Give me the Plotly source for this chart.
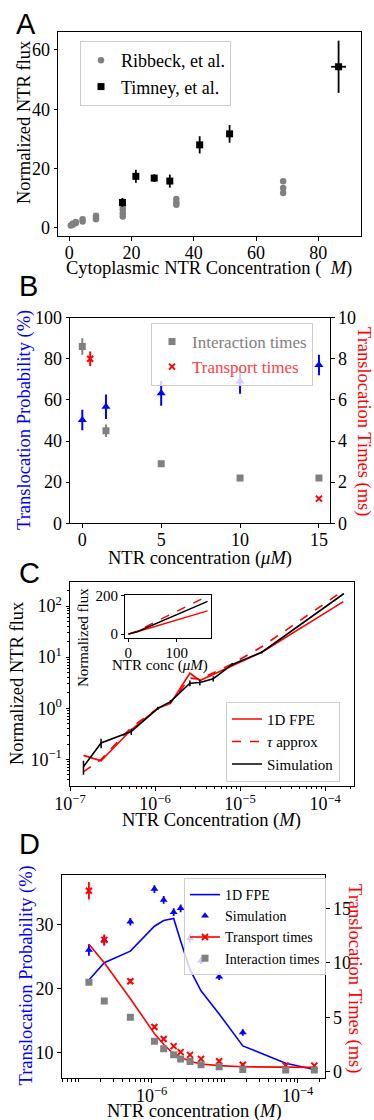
import plotly.graph_objects as go
import numpy as np

W, H = 374, 1120
SERIF = "Liberation Serif"
SANS = "Liberation Sans"

# ---------------- Panel A data ----------------
ribbeck_x = [0.5, 1.1, 1.1, 2.1, 2.1, 4.3, 4.3, 8.6, 8.6, 8.6, 17.2, 17.2, 17.2, 17.2,
             34.4, 34.4, 34.4, 68.7, 68.7, 68.7]
ribbeck_y = [0.8, 1.1, 1.4, 1.6, 2.0, 2.2, 2.9, 2.9, 3.5, 4.1, 3.9, 5.0, 6.2, 7.3,
             7.8, 8.6, 9.8, 11.8, 13.5, 15.7]
timney_x = [17.1, 21.4, 27.3, 32.3, 41.9, 51.5, 86.5]
timney_y = [8.6, 17.4, 16.8, 15.8, 28.0, 31.7, 54.3]
timney_yerr = [1.5, 2.2, 1.3, 2.2, 2.9, 3.0, 8.8]
timney_xerr = [0.6, 0.6, 0.6, 0.6, 0.6, 0.6, 2.4]

# ---------------- Panel B data ----------------
b_conc = [0, 1.5, 5, 10, 15]
b_prob = [50.2, 56.7, 63.2, 69.0, 77.0]
b_prob_err = [5, 6, 6, 6, 5]
b_inter = [8.6, 4.5, 2.9, 2.2, 2.2]
b_inter_err = [0.4, 0.3, 0.1, 0.15, 0.1]
b_trans_conc = [0.5, 15]
b_trans = [8.0, 1.2]
b_trans_err = [0.35, 0.05]

# ---------------- Panel C data ----------------
c_conc = [1.44e-7, 2.32e-7, 5.25e-7, 1.08e-6, 1.52e-6, 2.57e-6, 3.37e-6, 4.84e-6,
          8.1e-6, 1.8e-5, 1.64e-4]
c_sim = [0.072, 0.21, 0.35, 1.0, 1.35, 3.1, 3.2, 3.8, 7.2, 12.5, 172]
c_sim_err = [0.022, 0.045, 0.05, 0.07, 0.1, 0.4, 0.4, 0.45, 0.5, 0.6, 5]
c_fpe = [0.12, 0.094, 0.38, 1.0, 1.25, 4.85, 3.5, 4.6, 7.0, 12.5, 122]
c_tau = [0.057, 0.1, 0.42, 1.0, 1.3, 3.9, 3.7, 5.0, 7.4, 16, 200]

# ---------------- Panel D data ----------------
d_conc = [1.38e-7, 2.24e-7, 5.1e-7, 1.09e-6, 1.46e-6, 2.0e-6, 2.49e-6, 3.35e-6,
          4.74e-6, 8.4e-6, 1.77e-5, 6.85e-5, 1.69e-4]
d_prob_sim = [26.0, 27.5, 30.4, 35.5, 33.8, 31.9, 32.5, 27.8, 24.3, 21.8, 13.1]
d_prob_sim_err = [0.9, 0.8, 0.6, 0.6, 0.6, 0.6, 0.6, 0.6, 0.5, 0.5, 0.5]
d_prob_fpe = [21.3, 24.0, 25.8, 29.7, 30.6, 30.9, 27.4, 22.9, 19.6, 16.0, 11.0, 8.3, 7.3]
d_trans_fpe = [11.7, 10.0, 6.7, 3.5, 2.5, 1.64, 1.33, 0.96, 0.71, 0.56, 0.46, 0.4, 0.4]
d_trans_sim = [16.6, 12.1, 8.3, 4.1, 3.0, 2.35, 1.8, 1.55, 1.18, 0.96, 0.65, 0.56, 0.56]
d_trans_sim_err = [0.8, 0.5, 0.2, 0.15, 0.12, 0.1, 0.08, 0.06, 0.05, 0.05, 0.05, 0.05, 0.05]
d_inter_sim = [8.2, 6.5, 5.0, 2.8, 2.1, 1.55, 1.18, 0.93, 0.65, 0.46, 0.2, 0.15, 0.15]
d_span = [8.6e-8, 1.48e-6]


def xd(a, b):
    return [a / W, b / W]


def yd(top, bottom):
    return [1 - bottom / H, 1 - top / H]


fig = go.Figure()

# ---- A ----
fig.add_trace(go.Scatter(x=ribbeck_x, y=ribbeck_y, mode="markers", name="Ribbeck, et al.",
                         marker=dict(color="gray", size=6.5), xaxis="x", yaxis="y",
                         legend="legend"))
fig.add_trace(go.Scatter(x=timney_x, y=timney_y, mode="markers", name="Timney, et al.",
                         marker=dict(color="black", symbol="square", size=7),
                         error_y=dict(type="data", array=timney_yerr, color="black",
                                      thickness=1.8, width=0),
                         error_x=dict(type="data", array=timney_xerr, color="black",
                                      thickness=1.8, width=0),
                         xaxis="x", yaxis="y", legend="legend"))

# ---- B ----
fig.add_trace(go.Scatter(x=b_conc, y=b_prob, mode="markers", showlegend=False,
                         marker=dict(color="blue", symbol="triangle-up", size=8),
                         error_y=dict(type="data", array=b_prob_err, color="blue",
                                      thickness=2, width=0),
                         xaxis="x2", yaxis="y2"))
fig.add_trace(go.Scatter(x=b_conc, y=b_inter, mode="markers",
                         name='<span style="color:gray">Interaction times</span>',
                         marker=dict(color="gray", symbol="square", size=7),
                         error_y=dict(type="data", array=b_inter_err, color="gray",
                                      thickness=2, width=0),
                         xaxis="x2", yaxis="y3", legend="legend2"))
fig.add_trace(go.Scatter(x=b_trans_conc, y=b_trans, mode="markers",
                         name='<span style="color:#ff4040">Transport times</span>',
                         marker=dict(color="red", symbol="x-thin", size=6,
                                     line=dict(color="red", width=2)),
                         error_y=dict(type="data", array=b_trans_err, color="red",
                                      thickness=2, width=0),
                         xaxis="x2", yaxis="y3", legend="legend2"))

# ---- C ----
fig.add_trace(go.Scatter(x=c_conc, y=c_fpe, mode="lines", name="1D FPE",
                         line=dict(color="red", width=1.6), legendrank=1,
                         xaxis="x3", yaxis="y4", legend="legend3"))
fig.add_trace(go.Scatter(x=c_conc, y=c_tau, mode="lines", name="<i>τ</i> approx",
                         line=dict(color="red", width=1.6, dash="dash"), legendrank=2,
                         xaxis="x3", yaxis="y4", legend="legend3"))
fig.add_trace(go.Scatter(x=c_conc, y=c_sim, mode="lines", name="Simulation",
                         line=dict(color="black", width=1.6), legendrank=3,
                         error_y=dict(type="data", array=c_sim_err, color="black",
                                      thickness=1.5, width=0),
                         xaxis="x3", yaxis="y4", legend="legend3"))
# inset
c_conc_um = [v * 1e6 for v in c_conc]
fig.add_trace(go.Scatter(x=c_conc_um, y=c_fpe, mode="lines", showlegend=False,
                         line=dict(color="red", width=1.4), xaxis="x4", yaxis="y5"))
fig.add_trace(go.Scatter(x=c_conc_um, y=c_tau, mode="lines", showlegend=False,
                         line=dict(color="red", width=1.4, dash="dash"), xaxis="x4", yaxis="y5"))
fig.add_trace(go.Scatter(x=c_conc_um, y=c_sim, mode="lines", showlegend=False,
                         line=dict(color="black", width=1.4), xaxis="x4", yaxis="y5"))

# ---- D ----
fig.add_trace(go.Scatter(x=d_conc, y=d_prob_fpe, mode="lines", name="1D FPE",
                         line=dict(color="blue", width=1.6), legendrank=1,
                         xaxis="x5", yaxis="y6", legend="legend4"))
fig.add_trace(go.Scatter(x=d_conc[:len(d_prob_sim)], y=d_prob_sim, mode="markers",
                         name="Simulation", legendrank=2,
                         marker=dict(color="blue", symbol="triangle-up", size=7),
                         error_y=dict(type="data", array=d_prob_sim_err, color="blue",
                                      thickness=1.8, width=0),
                         xaxis="x5", yaxis="y6", legend="legend4"))
fig.add_trace(go.Scatter(x=d_conc, y=d_trans_fpe, mode="lines", showlegend=False,
                         line=dict(color="red", width=1.6), xaxis="x5", yaxis="y7"))
fig.add_trace(go.Scatter(x=d_conc, y=d_trans_sim, mode="markers", showlegend=False,
                         marker=dict(color="red", symbol="x-thin", size=6,
                                     line=dict(color="red", width=2)),
                         error_y=dict(type="data", array=d_trans_sim_err, color="red",
                                      thickness=1.8, width=0),
                         xaxis="x5", yaxis="y7"))
fig.add_trace(go.Scatter(x=[None], y=[None], mode="lines+markers", name="Transport times",
                         legendrank=3,
                         line=dict(color="red", width=1.6),
                         marker=dict(color="red", symbol="x-thin", size=6,
                                     line=dict(color="red", width=2)),
                         xaxis="x5", yaxis="y7", legend="legend4"))
fig.add_trace(go.Scatter(x=d_conc, y=d_inter_sim, mode="markers", name="Interaction times",
                         legendrank=4,
                         marker=dict(color="gray", symbol="square", size=7),
                         xaxis="x5", yaxis="y7", legend="legend4"))

fig.add_shape(type="rect", xref="x5", yref="y6 domain",
              x0=np.log10(d_span[0]), x1=np.log10(d_span[1]), y0=0, y1=1,
              fillcolor="rgba(70,130,180,0.32)", line=dict(color="rgba(70,130,180,0.45)", width=1),
              layer="below")


def ax(**kw):
    base = dict(showline=True, linecolor="black", linewidth=1, ticks="outside", ticklen=3.5,
                tickwidth=1, tickcolor="black", showgrid=False, zeroline=False,
                automargin=False,
                tickfont=dict(family=SERIF, size=18, color="black"))
    base.update(kw)
    return base


def minor_log(lo, hi):
    return [m * 10.0 ** e for e in range(lo, hi) for m in range(2, 10)]


c_x_ticks = [1e-7, 1e-6, 1e-5, 1e-4]
c_x_text = ["10<sup>−7</sup>", "10<sup>−6</sup>", "10<sup>−5</sup>", "10<sup>−4</sup>"]
c_y_ticks = [0.1, 1, 10, 100]
c_y_text = ["10<sup>−1</sup>", "10<sup>0</sup>", "10<sup>1</sup>", "10<sup>2</sup>"]
d_x_ticks = [1e-6, 1e-4]
d_x_text = ["10<sup>−6</sup>", "10<sup>−4</sup>"]

legend_common = dict(xanchor="left", yanchor="top", bordercolor="#cccccc", borderwidth=1,
                     bgcolor="rgba(255,255,255,0.8)", itemwidth=30)

fig.update_layout(
    width=W, height=H, margin=dict(l=0, r=0, t=0, b=0, autoexpand=False),
    paper_bgcolor="white", plot_bgcolor="white",
    font=dict(family=SERIF, size=18, color="black"),
    # A
    xaxis=ax(domain=xd(58, 361), anchor="y", range=[-3.6, 93.7], tickvals=[0, 20, 40, 60, 80],
             mirror=True, ticklabelstandoff=-3),
    yaxis=ax(domain=yd(32, 236), anchor="x", range=[-2.7, 66], tickvals=[0, 20, 40, 60],
             mirror=True),
    # B
    xaxis2=ax(domain=xd(70, 330), anchor="y2", range=[-0.78, 15.7], tickvals=[0, 5, 10, 15],
              mirror=True, ticklabelstandoff=-3),
    yaxis2=ax(domain=yd(317.7, 523.3), anchor="x2", range=[0, 100],
              tickvals=[0, 20, 40, 60, 80, 100]),
    yaxis3=ax(domain=yd(317.7, 523.3), anchor="x2", overlaying="y2", side="right",
              range=[0, 10], tickvals=[0, 2, 4, 6, 8, 10]),
    # C
    xaxis3=ax(domain=xd(70, 354), anchor="y4", type="log", range=[-7, -3.66],
              tickvals=c_x_ticks, ticktext=c_x_text, mirror=True, ticklabelstandoff=-2,
              minor=dict(tickvals=minor_log(-7, -3), ticks="outside", ticklen=2.2,
                         tickcolor="black")),
    yaxis4=ax(domain=yd(581.7, 786), anchor="x3", type="log", range=[-1.52, 2.476],
              tickvals=c_y_ticks, ticktext=c_y_text, mirror=True,
              minor=dict(tickvals=minor_log(-2, 3), ticks="outside", ticklen=2.2,
                         tickcolor="black")),
    xaxis4=ax(domain=xd(125, 210.7), anchor="y5", range=[-6.9, 170.5], tickvals=[0, 100],
              mirror=True, ticklen=3, ticklabelstandoff=-2,
              tickfont=dict(family=SERIF, size=15, color="black")),
    yaxis5=ax(domain=yd(595, 638.3), anchor="x4", range=[-22, 205], tickvals=[0, 200],
              mirror=True, ticklen=3, tickfont=dict(family=SERIF, size=15, color="black")),
    # D
    xaxis5=ax(domain=xd(61.7, 325), anchor="y6", type="log", range=[-7.233, -3.626],
              tickvals=d_x_ticks, ticktext=d_x_text, mirror=True, ticklabelstandoff=-2,
              minor=dict(tickvals=minor_log(-8, -3) + [1e-7, 1e-5], ticks="outside",
                         ticklen=2.2, tickcolor="black")),
    yaxis6=ax(domain=yd(875, 1078.3), anchor="x5", range=[5.94, 37.7], tickvals=[10, 20, 30]),
    yaxis7=ax(domain=yd(875, 1078.3), anchor="x5", overlaying="y6", side="right",
              range=[-0.6, 18.05], tickvals=[0, 5, 10, 15]),
    legend=dict(x=80 / W, y=1 - 41 / H, font=dict(family=SERIF, size=18, color="black"),
                **legend_common),
    legend2=dict(x=151 / W, y=1 - 323 / H, font=dict(family=SERIF, size=17, color="black"),
                 **legend_common),
    legend3=dict(x=226 / W, y=1 - 701.7 / H, font=dict(family=SERIF, size=15, color="black"),
                 **legend_common),
    legend4=dict(x=184 / W, y=1 - 878 / H, font=dict(family=SERIF, size=14, color="black"),
                 **legend_common),
)

# axis titles as text placed at the reference positions (pixel centres)
titles = [
    ("Cytoplasmic NTR Concentration (\u00a0\u00a0<i>M</i>)", 209, 268, 0, "black", 18.5),
    ("Normalized NTR flux", 24, 122, -90, "black", 18.5),
    ("Translocation Probability (%)", 24, 420, -90, "blue", 18.5),
    ("Translocation Times (ms)", 364, 421, 90, "red", 18.5),
    ("NTR concentration (<i>μM</i>)", 200, 558, 0, "black", 18.5),
    ("Normalized NTR flux", 17, 683, -90, "black", 18.5),
    ("NTR Concentration (<i>M</i>)", 211, 820, 0, "black", 18.5),
    ("Normalized flux", 83, 638, -90, "black", 15),
    ("NTR conc (<i>μM</i>)", 159.5, 665, 0, "black", 15),
    ("Translocation Probability (%)", 25.5, 976, -90, "blue", 18.5),
    ("Translocation Times (ms)", 355, 978, 90, "red", 18.5),
    ("NTR concentration (<i>M</i>)", 194, 1111, 0, "black", 18.5),
]
for text, px, py, ang, col, sz in titles:
    fig.add_annotation(text=text, xref="paper", yref="paper", x=px / W, y=1 - py / H,
                       xanchor="center", yanchor="middle", showarrow=False, textangle=ang,
                       font=dict(family=SERIF, size=sz, color=col))

for letter, cx, cy in [("A", 14, 24), ("B", 17, 285.5), ("C", 17, 573), ("D", 17, 844)]:
    fig.add_annotation(text=letter, xref="paper", yref="paper", x=cx / W, y=1 - cy / H,
                       xanchor="left", yanchor="middle", showarrow=False,
                       font=dict(family=SANS, size=29, color="black"))

fig.write_html("out.html")
